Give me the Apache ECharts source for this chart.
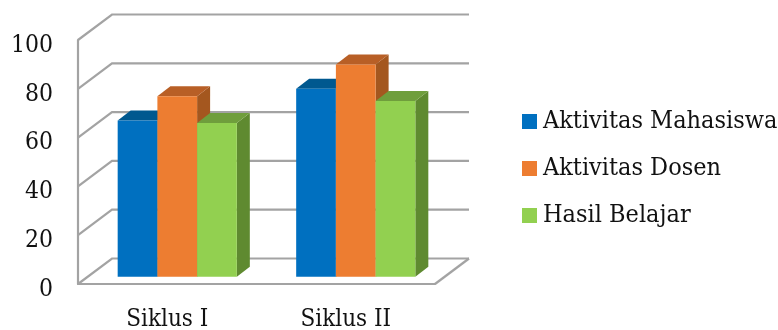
<!DOCTYPE html>
<html>
<head>
<meta charset="utf-8">
<script src="https://cdn.jsdelivr.net/npm/echarts@6/dist/echarts.min.js"></script>
<style>html,body{margin:0;padding:0;background:#fff}#c{width:778px;height:330px}</style>
</head>
<body>
<div id="c"></div>
<script>
const categories = ['Siklus I', 'Siklus II'];
const aktivitasMahasiswa = [64, 77];
const aktivitasDosen = [74, 87];
const hasilBelajar = [63, 72];
const yTicks = [0, 20, 40, 60, 80, 100];

const LINE = '#a3a3a3';
const TEXT = '#111111';
const FONT = '"DejaVu Serif Condensed","Liberation Serif",serif';
// Oblique offset of the back wall and of the bars inside the box
const WALL_DX = 34, WALL_DY = -25.5;
const BAR_SHIFT_X = 10, BAR_SHIFT_Y = -7.3;
const BAR_DX = 13, BAR_DY = -10;
const BAR_FRACTION = 0.2225;

function poly(points, fill) {
  return { type: 'polygon', shape: { points }, style: { fill, stroke: null } };
}

// One face set per value: front, top and right side of a sheared column
function barRenderer(slot, front, top, side) {
  return function (params, api) {
    const cat = api.value(0), val = api.value(1);
    const w = api.size([1, 0])[0] * BAR_FRACTION;
    const centre = api.coord([cat, val])[0];
    const x0 = centre + (slot - 1.5) * w + BAR_SHIFT_X, x1 = x0 + w;
    const yt = api.coord([cat, val])[1] + BAR_SHIFT_Y;
    const yb = api.coord([cat, 0])[1] + BAR_SHIFT_Y;
    return {
      type: 'group',
      children: [
        poly([[x1, yt], [x1 + BAR_DX, yt + BAR_DY], [x1 + BAR_DX, yb + BAR_DY], [x1, yb]], side),
        poly([[x0, yt], [x0 + BAR_DX, yt + BAR_DY], [x1 + BAR_DX, yt + BAR_DY], [x1, yt]], top),
        poly([[x0, yt], [x1, yt], [x1, yb], [x0, yb]], front)
      ]
    };
  };
}

// Back-wall rule and side-wall diagonal for one tick; the floor also closes on the right
function wallRenderer(params, api) {
  const v = api.value(0);
  const cs = params.coordSys;
  const y = api.coord([0, v])[1];
  const style = { stroke: LINE, lineWidth: 2.2, fill: null };
  const left = cs.x, right = cs.x + cs.width;
  const children = [
    { type: 'polyline', shape: { points: [[left, y], [left + WALL_DX, y + WALL_DY], [right + WALL_DX, y + WALL_DY]] }, style }
  ];
  if (v === 0) {
    children.push({ type: 'line', shape: { x1: right, y1: y, x2: right + WALL_DX, y2: y + WALL_DY }, style });
  }
  return { type: 'group', children };
}

function barSeries(name, values, slot, front, top, side) {
  return {
    name, type: 'custom', z: 3 + slot,
    itemStyle: { color: front },
    renderItem: barRenderer(slot, front, top, side),
    encode: { x: 0, y: 1 },
    data: values.map((v, i) => [i, v])
  };
}

const chart = echarts.init(document.getElementById('c'), null, { renderer: 'canvas' });
chart.setOption({
  animation: false,
  backgroundColor: '#fff',
  grid: { left: 78, right: 343, top: 40, bottom: 46, outerBoundsMode: 'none' },
  legend: {
    orient: 'vertical', left: 522, top: 109, padding: 0,
    icon: 'rect', itemWidth: 15, itemHeight: 15, itemGap: 22,
    data: ['Aktivitas Mahasiswa', 'Aktivitas Dosen', 'Hasil Belajar'],
    selectedMode: false,
    textStyle: { fontFamily: FONT, fontSize: 25, color: TEXT, padding: [0, 0, 0, 1], lineHeight: 15 }
  },
  xAxis: {
    type: 'category', data: categories,
    axisLine: { lineStyle: { color: LINE, width: 2.2 } },
    axisTick: { show: false },
    axisLabel: { fontFamily: FONT, fontSize: 24, color: TEXT, margin: 24 }
  },
  yAxis: {
    type: 'value', min: 0, max: 100, interval: 20,
    axisLine: { show: true, lineStyle: { color: LINE, width: 2.2 } },
    axisTick: { show: false },
    splitLine: { show: false },
    axisLabel: { fontFamily: FONT, fontSize: 24.5, color: TEXT, margin: 25, verticalAlign: 'top', lineHeight: 11 }
  },
  series: [
    {
      name: 'wall', type: 'custom', z: 1, silent: true,
      renderItem: wallRenderer,
      encode: { y: 0 },
      data: yTicks.map(v => [v])
    },
    barSeries('Aktivitas Mahasiswa', aktivitasMahasiswa, 0, '#0070c0', '#00588f', '#00588f'),
    barSeries('Aktivitas Dosen', aktivitasDosen, 1, '#ed7d31', '#b85f26', '#a4571f'),
    barSeries('Hasil Belajar', hasilBelajar, 2, '#92d050', '#6f9e3c', '#5f8a30')
  ]
});
</script>
</body>
</html>
